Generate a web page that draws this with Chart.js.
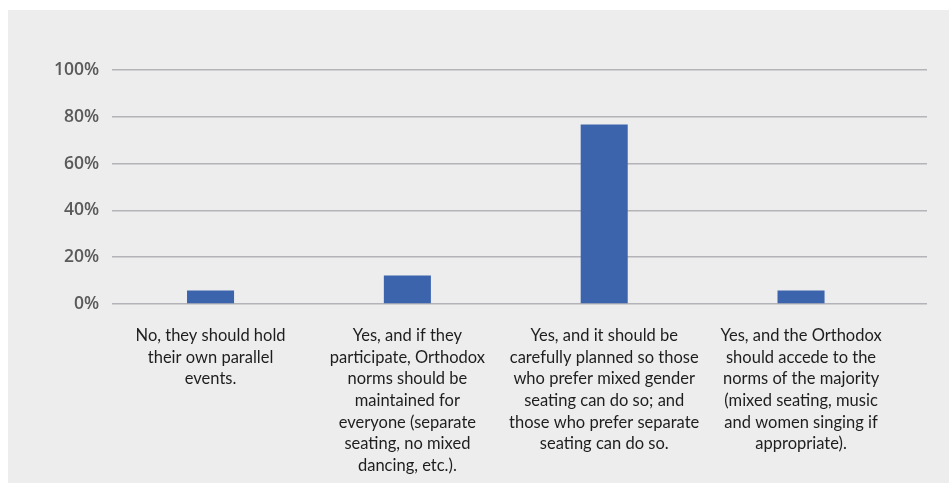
<!DOCTYPE html>
<html>
<head>
<meta charset="utf-8">
<script src="https://cdn.jsdelivr.net/npm/chart.js@4/dist/chart.umd.min.js"></script>
<style>
  html, body { margin: 0; padding: 0; background: #ffffff; }
  #wrap { position: absolute; left: 8px; top: 10px; width: 941px; height: 473px; background: #ededed; }
  canvas { display: block; }
</style>
</head>
<body>
<div id="wrap"><canvas id="c" width="941" height="473"></canvas></div>
<script>
const categories = [
  ["No, they should hold", "their own parallel", "events."],
  ["Yes, and if they", "participate, Orthodox", "norms should be", "maintained for", "everyone (separate", "seating, no mixed", "dancing, etc.)."],
  ["Yes, and it should be", "carefully planned so those", "who prefer mixed gender", "seating can do so; and", "those who prefer separate", "seating can do so."],
  ["Yes, and the Orthodox", "should accede to the", "norms of the majority", "(mixed seating, music", "and women singing if", "appropriate)."]
];
const values = [5.8, 12.2, 76.7, 5.8];
const yTicks = [0, 20, 40, 60, 80, 100];

new Chart(document.getElementById('c'), {
  type: 'bar',
  data: {
    datasets: [{
      data: values.map((v, i) => ({ x: i, y: v })),
      backgroundColor: '#3c64ad',
      borderWidth: 0,
      categoryPercentage: 1,
      barPercentage: 0.239
    }]
  },
  options: {
    responsive: false,
    animation: false,
    events: [],
    layout: { padding: { top: 60, right: 22, bottom: 0, left: 33 } },
    plugins: { legend: { display: false }, tooltip: { enabled: false }, title: { display: false } },
    scales: {
      x: {
        type: 'linear',
        offset: false,
        min: -0.5,
        max: 3.64,
        grid: { display: false, drawTicks: false },
        border: { display: false },
        afterBuildTicks: (scale) => { scale.ticks = categories.map((c, i) => ({ value: i })); },
        afterFit: (scale) => { scale.height = 179; },
        ticks: {
          autoSkip: false,
          maxRotation: 0,
          minRotation: 0,
          padding: 21,
          color: '#1e1e1e',
          font: { family: 'Lato', size: 16.5, lineHeight: 1.31 },
          callback: (v) => categories[v] || ''
        }
      },
      y: {
        min: 0,
        max: 100,
        afterBuildTicks: (scale) => { scale.ticks = yTicks.map(v => ({ value: v })); },
        grid: { color: '#b4b4b8', lineWidth: 1.6, drawTicks: false },
        border: { display: false },
        ticks: {
          padding: 13,
          color: '#5a5a5a',
          font: { family: 'Open Sans', size: 17.5, weight: '600' },
          callback: (v) => v + '%'
        }
      }
    }
  }
});
</script>
</body>
</html>
